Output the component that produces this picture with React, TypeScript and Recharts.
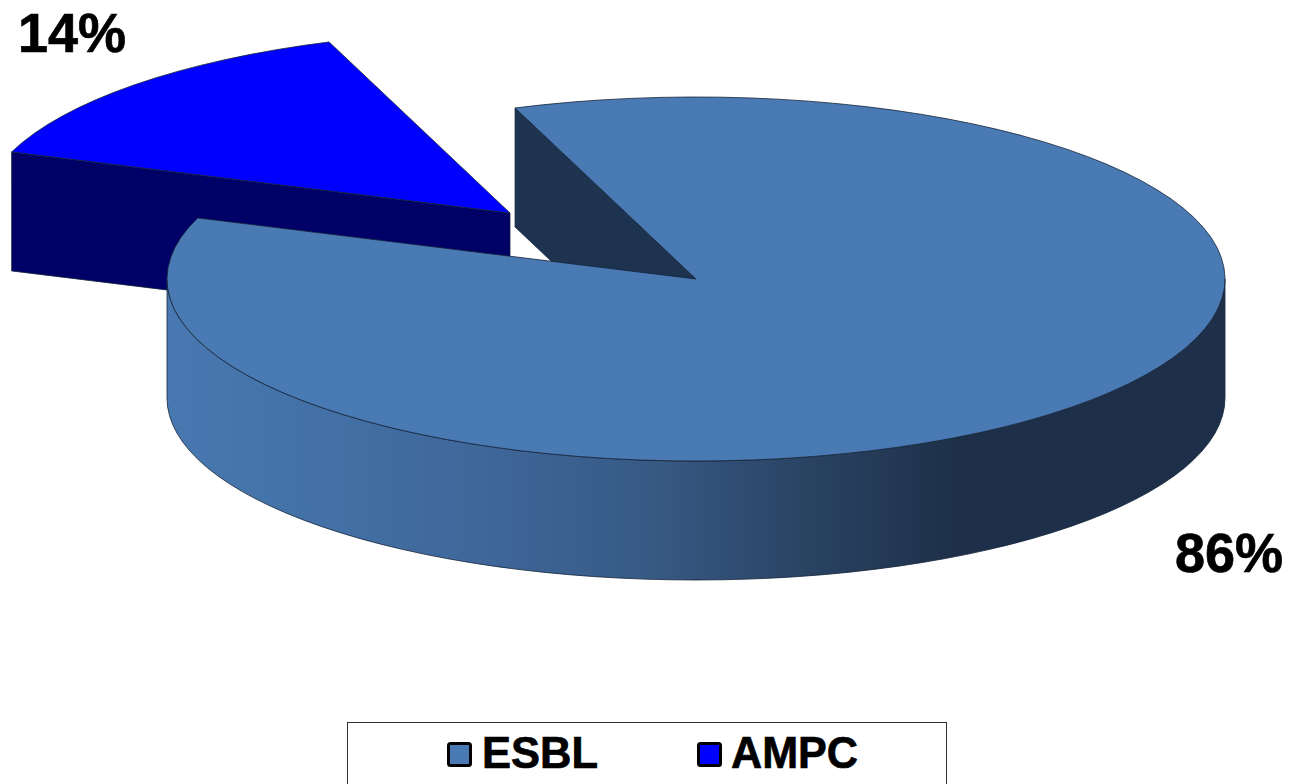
import { PieChart, Pie, Legend } from 'recharts';

const categories = ['ESBL', 'AMPC'];
const shares = [86, 14];
const topColors = ['#4a7ab3', '#0000ff'];
const wallColors = ['#1e3350', '#000066'];

// AMPC goes first so the big slice paints over it
const pieData = categories
  .map((name, i) => ({ name, value: shares[i], fill: topColors[i], wall: wallColors[i] }))
  .reverse();

const CX = 696;
const CY = 279;
const RX = 529;
const SQUASH = 182 / 529;
const DEPTH = 119;
const EDGE = '#14233a';

const explode: Record<string, { dx: number; dy: number }> = {
  AMPC: { dx: -186, dy: -66 },
};
const labelSpots: Record<string, { x: number; y: number }> = {
  ESBL: { x: 1175, y: 572 },
  AMPC: { x: 18, y: 52 },
};
const legendSpots: Record<string, { swatch: number; text: number; width: number }> = {
  ESBL: { swatch: 101.5, text: 135, width: 116 },
  AMPC: { swatch: 351.5, text: 384, width: 127 },
};

const rad = (deg: number) => (deg * Math.PI) / 180;

// flatten a circle point into the tilted ellipse
function point(cx: number, cy: number, r: number, deg: number) {
  return { x: cx + r * Math.cos(rad(deg)), y: cy - r * SQUASH * Math.sin(rad(deg)) };
}

function arcTo(r: number, from: number, to: number, x: number, y: number, sweep: number) {
  const large = Math.abs(to - from) > 180 ? 1 : 0;
  return `A ${r} ${r * SQUASH} 0 ${large} ${sweep} ${x} ${y}`;
}

function Slice3D(props: any) {
  const { outerRadius: r, startAngle, endAngle, fill, payload } = props;
  const off = explode[payload.name] ?? { dx: 0, dy: 0 };
  const cx = props.cx + off.dx;
  const cy = props.cy + off.dy;
  const a = point(cx, cy, r, startAngle);
  const b = point(cx, cy, r, endAngle);

  const top = `M ${cx} ${cy} L ${a.x} ${a.y} ${arcTo(r, startAngle, endAngle, b.x, b.y, 0)} Z`;

  const cutWall = (p: { x: number; y: number }) =>
    `M ${p.x} ${p.y} L ${cx} ${cy} L ${cx} ${cy + DEPTH} L ${p.x} ${p.y + DEPTH} Z`;

  // the outer rim only shows on the front half, 180 to 360 degrees
  const rimFrom = Math.max(startAngle, 180);
  const rimTo = Math.min(endAngle, 360);
  let rim = null;
  if (rimTo > rimFrom) {
    const p = point(cx, cy, r, rimFrom);
    const q = point(cx, cy, r, rimTo);
    rim =
      `M ${p.x} ${p.y} ${arcTo(r, rimFrom, rimTo, q.x, q.y, 0)} ` +
      `L ${q.x} ${q.y + DEPTH} ${arcTo(r, rimFrom, rimTo, p.x, p.y + DEPTH, 1)} Z`;
  }

  const showStart = Math.cos(rad(startAngle)) > 0;
  const showEnd = Math.cos(rad(endAngle)) < 0;

  return (
    <g>
      {showStart && <path d={cutWall(a)} fill={payload.wall} stroke={EDGE} strokeWidth={0.8} />}
      {showEnd && <path d={cutWall(b)} fill={payload.wall} stroke={EDGE} strokeWidth={0.8} />}
      {rim && <path d={rim} fill="url(#rimShade)" stroke={EDGE} strokeWidth={0.8} />}
      <path d={top} fill={fill} stroke={EDGE} strokeWidth={0.8} />
    </g>
  );
}

function PercentLabel(props: any) {
  const spot = labelSpots[props.name];
  return (
    <text
      x={spot.x}
      y={spot.y}
      fontFamily="Liberation Sans"
      fontWeight="bold"
      fontSize={55}
      fill="#000"
      stroke="#000"
      strokeWidth={0.7}
      textLength={108}
      lengthAdjust="spacingAndGlyphs"
    >
      {props.value}%
    </text>
  );
}

function LegendBox({ payload }: any) {
  return (
    <svg width={600} height={80} style={{ display: 'block' }}>
      <rect x={0.5} y={0.5} width={599} height={90} fill="#fff" stroke="#333" />
      {(payload ?? []).map((item: any) => {
        const spot = legendSpots[item.value];
        return (
          <g key={item.value}>
            <rect x={spot.swatch} y={21.5} width={22} height={22} rx={2} fill={item.color} stroke="#000" strokeWidth={3} />
            <text
              x={spot.text}
              y={46}
              fontFamily="Liberation Sans"
              fontWeight="bold"
              fontSize={45}
              fill="#000"
              stroke="#000"
              strokeWidth={0.7}
              textLength={spot.width}
              lengthAdjust="spacingAndGlyphs"
            >
              {item.value}
            </text>
          </g>
        );
      })}
    </svg>
  );
}

export default function App() {
  return (
    <div style={{ position: 'absolute', left: 0, top: 0, width: 1289, height: 784, overflow: 'hidden', background: '#fff' }}>
      <PieChart width={1289} height={784} margin={{ top: 0, right: 0, bottom: 0, left: 0 }}>
        <defs>
          <linearGradient id="rimShade" gradientUnits="userSpaceOnUse" x1={166} y1={0} x2={1225} y2={0}>
            <stop offset="0%" stopColor="#4878b0" />
            <stop offset="11%" stopColor="#4473a9" />
            <stop offset="29.5%" stopColor="#3f679a" />
            <stop offset="45.7%" stopColor="#375a85" />
            <stop offset="60%" stopColor="#2a4464" />
            <stop offset="74.6%" stopColor="#1e3049" />
            <stop offset="100%" stopColor="#1e3049" />
          </linearGradient>
        </defs>
        <Pie
          data={pieData}
          dataKey="value"
          nameKey="name"
          cx={CX}
          cy={CY}
          innerRadius={0}
          outerRadius={RX}
          startAngle={110}
          endAngle={470}
          legendType="square"
          shape={Slice3D}
          label={PercentLabel}
          labelLine={false}
          isAnimationActive={false}
        />
        <Legend
          content={LegendBox}
          wrapperStyle={{ position: 'absolute', left: 347, top: 722, width: 600, height: 80 }}
        />
      </PieChart>
    </div>
  );
}
